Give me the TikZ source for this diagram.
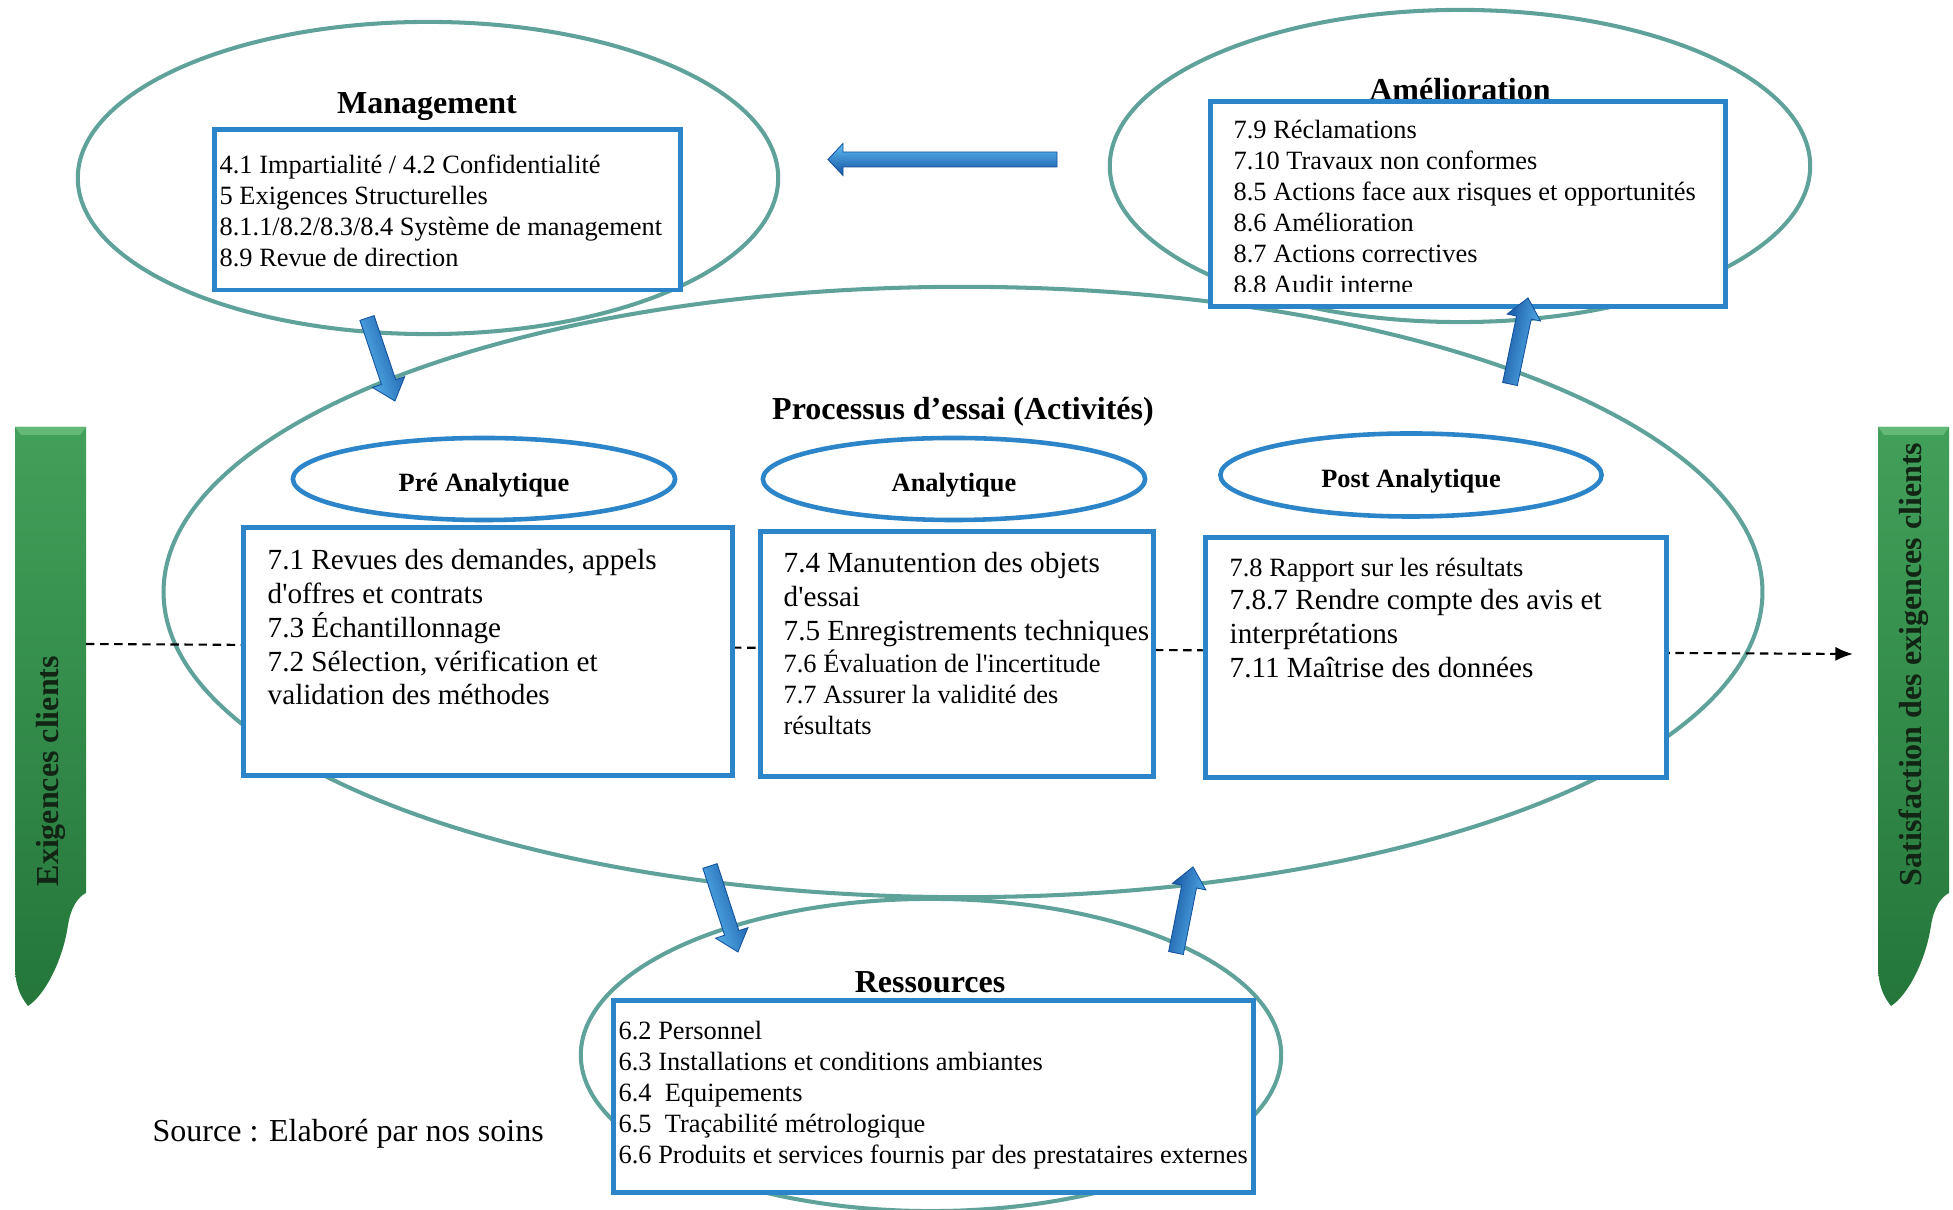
\documentclass[tikz,border=0pt]{standalone}
\usepackage{fontspec}
\setmainfont{Liberation Serif}[Ligatures=TeXOff]
\usetikzlibrary{shapes.geometric,arrows.meta}
\definecolor{teal1}{RGB}{95,162,153}
\definecolor{bord}{RGB}{44,132,201}
\definecolor{abl1}{RGB}{95,190,245}
\definecolor{abl2}{RGB}{32,134,218}
\definecolor{abl3}{RGB}{20,82,160}
\definecolor{grn1}{RGB}{66,160,90}
\definecolor{grn2}{RGB}{36,118,58}
\definecolor{grnlt}{RGB}{100,185,120}
\definecolor{grntxt}{RGB}{18,36,20}
\tikzset{
  tealell/.style={ellipse, draw=teal1, line width=1.15pt, inner sep=0pt},
  blueell/.style={ellipse, draw=bord, line width=1.3pt, fill=white, inner sep=0pt},
  elltxt/.style={font=\fontsize{7.5}{9}\selectfont\bfseries, inner sep=0pt, anchor=base},
  bbox/.style={rectangle, draw=bord, line width=1.4pt, fill=white, inner sep=0pt},
  ttl/.style={font=\fontsize{9.1}{11}\selectfont\bfseries, inner sep=0pt, anchor=base},
  txtS/.style={font=\fontsize{7.5}{8.8}\selectfont, align=left, inner sep=0pt, anchor=north west},
  txtL/.style={font=\fontsize{8.3}{9.6}\selectfont, align=left, inner sep=0pt, anchor=north west},
  bartxt/.style={font=\fontsize{9.1}{11}\selectfont\bfseries, text=grntxt, rotate=90,
    anchor=west, inner sep=0pt},
  dashline/.style={black, line width=0.6pt, dash pattern=on 2.4pt off 1.6pt,
    -{Latex[length=5pt,width=4pt]}},
  pics/fatarrow/.style args={#1/#2/#3/#4}{code={
    \shade[top color=abl1, middle color=abl2, bottom color=abl3, shading angle=#4,
      draw=abl3, line width=0.25pt]
      (0,-7.5) -- ({#1-#2},-7.5) -- ({#1-#2},-#3) -- (#1,0) -- ({#1-#2},#3)
      -- ({#1-#2},7.5) -- (0,7.5) -- cycle;
  }}
}
\begin{document}
\begin{tikzpicture}[x=0.01cm, y=-0.01cm]
\useasboundingbox (0,0) rectangle (1953,1210);
\fill[white] (0,0) rectangle (1953,1210);

% green side bars
\foreach \sx in {0cm, 18.62cm}{
  \begin{scope}[xshift=\sx]
    \shade[top color=grn1, bottom color=grn2]
      (15,427) -- (86,427) -- (86,893) .. controls (78,897) and (71,907) .. (68,925)
      .. controls (63,960) and (45,995) .. (28,1006)
      .. controls (20,996) and (15,985) .. (15,965) -- cycle;
    \fill[grnlt] (15,427) -- (86,427) -- (80,435) -- (21,435) -- cycle;
  \end{scope}
}
\node[bartxt] (exig) at (51,887) {Exigences clients};
\node[bartxt] (satis) at (1914,887) {Satisfaction des exigences clients};

% teal ellipses
\node[tealell, minimum width=7cm, minimum height=3.12cm] (mgmt) at (428,178) {};
\node[tealell, minimum width=7cm, minimum height=3.12cm] (amel) at (1460,166) {};
\node[tealell, minimum width=15.98cm, minimum height=6.1cm] (proc) at (963,592) {};
\node[tealell, minimum width=7cm, minimum height=3.12cm] (res) at (931,1055) {};

% dashed flow line
\coordinate (exigR) at (86,644);
\coordinate (satisL) at (1853,654);
\draw[dashline] (exigR) -- (satisL);

% titles
\node[ttl] (mgmtT) at (427,114) {Management};
\node[ttl] (amelT) at (1460,101) {Amélioration};
\node[ttl] (procT) at (963,420) {Processus d’essai (Activités)};
\node[ttl] (resT) at (930,993) {Ressources};

% Management box
\node[bbox, minimum width=4.65cm, minimum height=1.6cm] (mgmtB) at (447.5,210) {};
\node[txtS] (mgmtX) at (219,151.4) {\strut 4.1 Impartialité / 4.2 Confidentialité\\5 Exigences Structurelles\\8.1.1/8.2/8.3/8.4 Système de management\\8.9 Revue de direction};

% Amelioration box
\node[bbox, minimum width=5.14cm, minimum height=2.04cm] (amelB) at (1468,204) {};
\begin{scope}
  \clip (1214,105) rectangle (1722,292);
  \node[txtS] (amelX) at (1233,116.4) {\strut 7.9 Réclamations\\7.10 Travaux non conformes\\8.5 Actions face aux risques et opportunités\\8.6 Amélioration\\8.7 Actions correctives\\8.8 Audit interne};
\end{scope}

% process sub-ellipses
\node[blueell, minimum width=3.82cm, minimum height=0.82cm] (preE) at (484,479) {};
\node[blueell, minimum width=3.82cm, minimum height=0.82cm] (anaE) at (954,479) {};
\node[blueell, minimum width=3.81cm, minimum height=0.83cm] (postE) at (1411,475) {};
\node[elltxt] (preL) at (484,492) {Pré Analytique};
\node[elltxt] (anaL) at (954,492) {Analytique};
\node[elltxt] (postL) at (1411,488) {Post Analytique};

% process boxes
\node[bbox, minimum width=4.88cm, minimum height=2.47cm] (preB) at (488,651.5) {};
\node[txtL] (preX) at (267,545.4) {\strut 7.1 Revues des demandes, appels\\d'offres et contrats\\7.3 Échantillonnage\\7.2 Sélection, vérification et\\validation des méthodes};

\node[bbox, minimum width=3.92cm, minimum height=2.44cm] (anaB) at (957,654) {};
\node[txtL] (anaX1) at (783,548.4) {\strut 7.4 Manutention des objets\\d'essai\\7.5 Enregistrements techniques};
\node[txtS] (anaX2) at (783,649.4) {\strut 7.6 Évaluation de l'incertitude\\7.7 Assurer la validité des\\résultats};

\node[bbox, minimum width=4.6cm, minimum height=2.39cm] (postB) at (1436,657.5) {};
\node[txtS] (postX1) at (1229,554.4) {\strut 7.8 Rapport sur les résultats};
\node[txtL] (postX2) at (1229,585.4) {\strut 7.8.7 Rendre compte des avis et\\interprétations\\7.11 Maîtrise des données};

% Ressources box
\node[bbox, minimum width=6.39cm, minimum height=1.91cm] (resB) at (933.5,1096.5) {};
\node[txtS] (resX) at (618,1017.4) {\strut 6.2 Personnel\\6.3 Installations et conditions ambiantes\\6.4\ \ Equipements\\6.5\ \ Traçabilité métrologique\\6.6 Produits et services fournis par des prestataires externes};

% source
\node[font=\fontsize{9.1}{11}\selectfont, anchor=base west, inner sep=0pt] (src) at (152,1142) {Source : Elaboré par nos soins};

% blue 3D arrows
\coordinate (a1s) at (1057,159.5);
\coordinate (a2s) at (367,318);
\coordinate (a3s) at (1510,384);
\coordinate (a4s) at (710,866);
\coordinate (a5s) at (1176,953);
\pic[rotate=180] at (a1s) {fatarrow=229/15/16/0};
\pic[rotate=-71.4] at (a2s) {fatarrow=87.6/20/17/108};
\pic[rotate=78.2] at (a3s) {fatarrow=87.9/20/17/-102};
\pic[rotate=-72] at (a4s) {fatarrow=90.4/20/17/108};
\pic[rotate=78.8] at (a5s) {fatarrow=87.7/20/17/-102};
\end{tikzpicture}
\end{document}
